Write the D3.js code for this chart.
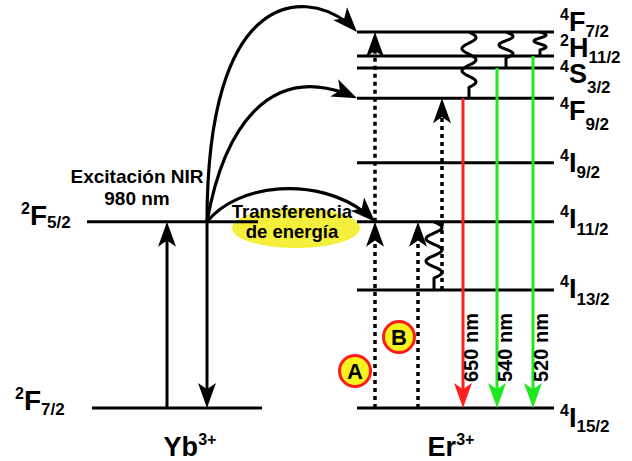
<!DOCTYPE html>
<html><head><meta charset="utf-8">
<script src="https://cdn.jsdelivr.net/npm/d3@7"></script>
<style>
html,body{margin:0;padding:0;background:#fff;}
svg{display:block;font-family:"Liberation Sans",Arial,Helvetica,sans-serif;font-weight:bold;}
</style>
</head><body>
<svg id="chart" width="632" height="461"></svg>
<script>
// ---------------- DATA ----------------
// Er3+ levels: name (sup + term + sub) and diagram energy (10^3 cm^-1)
const erLevelNames = ["4I15/2", "4I13/2", "4I11/2", "4I9/2", "4F9/2", "4S3/2", "2H11/2", "4F7/2"];
const erLevelEnergies = [0, 6.4, 10.1, 13.3, 16.8, 18.45, 19.1, 20.4];
// Yb3+ levels
const ybLevelNames = ["2F7/2", "2F5/2"];
const ybLevelEnergies = [0, 10.1];
// Yb3+ transitions
const ybAbsorption = [0, 10.1];
const ybRelaxation = [10.1, 0];
// Energy transfer Yb -> Er : target Er levels
const transferTargets = ["4F7/2", "4F9/2", "4I11/2"];
// Excited-state absorption paths (dotted): [from, to]
const esaA = [["4I15/2", "4I11/2"], ["4I11/2", "4F7/2"]];
const esaB = [["4I15/2", "4I11/2"]];
const esaC = [["4I13/2", "4F9/2"]];
// Non-radiative relaxations (wavy): [from, to]
const nonRadiative = [["4F7/2", "4F9/2"], ["4F7/2", "4S3/2"], ["4F7/2", "2H11/2"], ["4I11/2", "4I13/2"]];
// Emissions: from level, wavelength label, colour kind
const emissionFrom = ["4F9/2", "4S3/2", "2H11/2"];
const emissionLabels = ["650 nm", "540 nm", "520 nm"];
const emissionKinds = ["red", "green", "green"];
// Texts
const ionLabels = ["Yb", "Er"];
const excitationText = ["Excitación NIR", "980 nm"];
const transferText = ["Transferencia", "de energía"];
const pathLabels = ["A", "B"];

// ---------------- LAYOUT ----------------
const y = d3.scaleLinear().domain([0, 20.4]).range([408, 32]);
const E = n => erLevelEnergies[erLevelNames.indexOf(n)];
const layout = {
  erX: [357, 554], ybX: [[92, 262], [87, 258]],
  ybUpX: 167, ybDownX: 207,
  esaAX: 375, esaBX: 418, esaCX: 442,
  emissionX: [463, 497, 533],
  wavy: [
    {x: 469, stem: 11, amp: 7, cycles: 2.5},
    {x: 506, stem: 10, amp: 7, cycles: 1.5},
    {x: 540, stem: 6, amp: 6, cycles: 1.5},
    {x: 434, stem: 12, amp: 8, cycles: 2.5}
  ],
  transferCtrl: [
    [[207, -30], [320, -10]],
    [[225, 120], [275, 60]],
    [[240, 180], [330, 175]]
  ],
  transferEndX: [357, 357, 375],
  erLabel: {x: 560, base: [19, 8, 6, 9, 22, 15, 1, -1], drop: [5, 7, 7, 6, 10, 10, 6, 6]},
  ybLabel: {x: [15, 21], base: [2, 3], drop: [5, 3]},
  ellipse: {cx: 296, cy: 228, rx: 64, ry: 20},
  circles: [[355, 371], [399, 337]]
};
const colors = {red: "#ff1f1f", green: "#1fe81f", yellow: "#f3ef3c", circleFill: "#f6f21e", circleStroke: "#ff1a1a"};

const svg = d3.select("#chart");
const gBack = svg.append("g"), gLevels = svg.append("g"), gTrans = svg.append("g"), gText = svg.append("g");

function arrowHead(g, tip, angleDeg, color, L = 25, Wd = 9) {
  g.append("path")
    .attr("d", `M0,0 L${-L},${-Wd} L${-L * 0.75},0 L${-L},${Wd} Z`)
    .attr("transform", `translate(${tip[0]},${tip[1]}) rotate(${angleDeg})`)
    .attr("fill", color);
}
function straightArrow(g, x, y0, y1, color, dashed) {
  const dir = y1 < y0 ? -1 : 1;
  const L = 25;
  g.append("line").attr("x1", x).attr("x2", x).attr("y1", y0).attr("y2", y1 - dir * L * 0.75)
    .attr("stroke", color).attr("stroke-width", dashed ? 3.5 : 3)
    .attr("stroke-dasharray", dashed ? "4,4" : null);
  arrowHead(g, [x, y1], dir < 0 ? -90 : 90, color, L, 9);
}

// Yellow ellipse (energy transfer)
gBack.append("ellipse").attr("cx", layout.ellipse.cx).attr("cy", layout.ellipse.cy)
  .attr("rx", layout.ellipse.rx).attr("ry", layout.ellipse.ry).attr("fill", colors.yellow);

// Levels
erLevelEnergies.forEach(e => {
  gLevels.append("line").attr("x1", layout.erX[0]).attr("x2", layout.erX[1])
    .attr("y1", y(e)).attr("y2", y(e)).attr("stroke", "#000").attr("stroke-width", 3);
});
ybLevelEnergies.forEach((e, i) => {
  gLevels.append("line").attr("x1", layout.ybX[i][0]).attr("x2", layout.ybX[i][1])
    .attr("y1", y(e)).attr("y2", y(e)).attr("stroke", "#000").attr("stroke-width", 3);
});

// Yb transitions
straightArrow(gTrans, layout.ybUpX, y(ybAbsorption[0]), y(ybAbsorption[1]), "#000", false);
straightArrow(gTrans, layout.ybDownX, y(ybRelaxation[0]), y(ybRelaxation[1]), "#000", false);

// Energy-transfer curves
transferTargets.forEach((t, i) => {
  const p = d3.path();
  const x0 = layout.ybDownX, y0 = y(ybLevelEnergies[1]);
  const x1 = layout.transferEndX[i], y1 = y(E(t));
  const c = layout.transferCtrl[i];
  p.moveTo(x0, y0);
  p.bezierCurveTo(c[0][0], c[0][1], c[1][0], c[1][1], x1, y1);
  const path = gTrans.append("path").attr("d", p.toString()).attr("fill", "none")
    .attr("stroke", "#000").attr("stroke-width", 3.2);
  const len = path.node().getTotalLength();
  path.attr("stroke-dasharray", `${len - 14} ${len}`);
  const a = path.node().getPointAtLength(len - 3), b = path.node().getPointAtLength(len);
  arrowHead(gTrans, [b.x, b.y], Math.atan2(b.y - a.y, b.x - a.x) * 180 / Math.PI, "#000", 25, 9.5);
});

// ESA dotted arrows
esaA.forEach(([f, t]) => straightArrow(gTrans, layout.esaAX, y(E(f)), y(E(t)), "#000", true));
esaB.forEach(([f, t]) => straightArrow(gTrans, layout.esaBX, y(E(f)), y(E(t)), "#000", true));
esaC.forEach(([f, t]) => straightArrow(gTrans, layout.esaCX, y(E(f)), y(E(t)), "#000", true));

// Non-radiative wavy lines
nonRadiative.forEach(([f, t], i) => {
  const w = layout.wavy[i];
  const y0 = y(E(f)), y2 = y(E(t)), ys = y2 - w.stem;
  const pts = d3.range(0, 121).map(k => {
    const u = k / 120;
    return [w.x + w.amp * Math.sin(2 * Math.PI * w.cycles * u), y0 + u * (ys - y0)];
  });
  pts.push([w.x, y2]);
  gTrans.append("path").attr("d", d3.line()(pts)).attr("fill", "none")
    .attr("stroke", "#000").attr("stroke-width", 3).attr("stroke-linejoin", "round");
});

// Emissions
emissionFrom.forEach((f, i) => {
  const col = colors[emissionKinds[i]];
  straightArrow(gTrans, layout.emissionX[i], y(E(f)), y(0), col, false);
  gText.append("text").text(emissionLabels[i])
    .attr("transform", `translate(${layout.emissionX[i] + 15},382) rotate(-90)`)
    .attr("font-size", 20).attr("fill", "#000");
});

// Level labels
function levelLabel(name, x, yb, drop, mainSize) {
  const t = gText.append("text").attr("x", x).attr("y", yb).attr("fill", "#000");
  t.append("tspan").text(name[0]).attr("font-size", 16).attr("dy", -11);
  t.append("tspan").text(name[1]).attr("font-size", mainSize).attr("dy", 11);
  t.append("tspan").text(name.slice(2)).attr("font-size", 17).attr("dy", drop);
}
erLevelNames.forEach((n, i) => levelLabel(n, layout.erLabel.x, y(erLevelEnergies[i]) + layout.erLabel.base[i], layout.erLabel.drop[i], 27));
ybLevelNames.forEach((n, i) => levelLabel(n, layout.ybLabel.x[i], y(ybLevelEnergies[i]) + layout.ybLabel.base[i], layout.ybLabel.drop[i], 28));

// Ion labels
[[190, ionLabels[0]], [451, ionLabels[1]]].forEach(([cx, s]) => {
  const t = gText.append("text").attr("x", cx).attr("y", 456).attr("text-anchor", "middle");
  t.append("tspan").text(s).attr("font-size", 27);
  t.append("tspan").text("3+").attr("font-size", 16).attr("dy", -11);
});

// Excitation text
excitationText.forEach((s, i) => {
  gText.append("text").text(s).attr("x", 137).attr("y", 183 + i * 22)
    .attr("text-anchor", "middle").attr("font-size", 19);
});
// Transfer text
transferText.forEach((s, i) => {
  gText.append("text").text(s).attr("x", 292).attr("y", 218 + i * 20)
    .attr("text-anchor", "middle").attr("font-size", 18.5);
});

// Path circles A / B
pathLabels.forEach((s, i) => {
  const [cx, cy] = layout.circles[i];
  gText.append("circle").attr("cx", cx).attr("cy", cy).attr("r", 15.5)
    .attr("fill", colors.circleFill).attr("stroke", colors.circleStroke).attr("stroke-width", 3);
  gText.append("text").text(s).attr("x", cx).attr("y", cy + 8).attr("text-anchor", "middle")
    .attr("font-size", 22);
});
</script>
</body></html>
